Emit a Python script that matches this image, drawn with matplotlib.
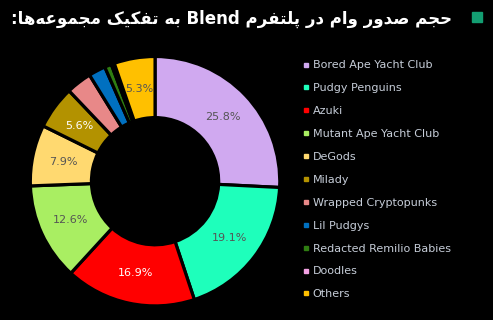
#!/usr/bin/env python3
"""Donut chart: Blend loan volume by NFT collection (Persian title)."""
import matplotlib
matplotlib.use("Agg")
import matplotlib.pyplot as plt
from matplotlib.lines import Line2D

TITLE = "حجم صدور وام در پلتفرم Blend به تفکیک مجموعه\u200cها:"

COLLECTIONS = ["Bored Ape Yacht Club", "Pudgy Penguins", "Azuki",
               "Mutant Ape Yacht Club", "DeGods", "Milady",
               "Wrapped Cryptopunks", "Lil Pudgys", "Redacted Remilio Babies",
               "Doodles", "Others"]
SHARES = [25.8, 19.1, 16.9, 12.6, 7.9, 5.6, 3.3, 2.2, 0.9, 0.4, 5.3]
COLORS = ["#d0a9f0", "#1effbb", "#ff0000", "#a9ee62", "#ffd970", "#b39200",
          "#e88888", "#0070c0", "#2f7d12", "#f3a1e3", "#ffc000"]
LABEL_COLORS = ["#555555", "#555555", "#ffffff", "#555555", "#555555",
                "#ffffff", "#555555", "#555555", "#555555", "#555555", "#555555"]

BG = "#000000"
LEGEND_TEXT = "#c6cdd8"

# matplotlib has no Arabic shaping, so pick presentation forms by hand:
# (isolated, final, initial, medial); right-joining letters have no ini/med.
FORMS = {
    "ا": ("\uFE8D", "\uFE8E", None, None),
    "ب": ("\uFE8F", "\uFE90", "\uFE91", "\uFE92"),
    "ت": ("\uFE95", "\uFE96", "\uFE97", "\uFE98"),
    "ج": ("\uFE9D", "\uFE9E", "\uFE9F", "\uFEA0"),
    "ح": ("\uFEA1", "\uFEA2", "\uFEA3", "\uFEA4"),
    "د": ("\uFEA9", "\uFEAA", None, None),
    "ر": ("\uFEAD", "\uFEAE", None, None),
    "ص": ("\uFEB9", "\uFEBA", "\uFEBB", "\uFEBC"),
    "ع": ("\uFEC9", "\uFECA", "\uFECB", "\uFECC"),
    "ف": ("\uFED1", "\uFED2", "\uFED3", "\uFED4"),
    "ل": ("\uFEDD", "\uFEDE", "\uFEDF", "\uFEE0"),
    "م": ("\uFEE1", "\uFEE2", "\uFEE3", "\uFEE4"),
    "ه": ("\uFEE9", "\uFEEA", "\uFEEB", "\uFEEC"),
    "و": ("\uFEED", "\uFEEE", None, None),
    "پ": ("\uFB56", "\uFB57", "\uFB58", "\uFB59"),
    "ک": ("\uFB8E", "\uFB8F", "\uFB90", "\uFB91"),
    "ی": ("\uFBFC", "\uFBFD", "\uFBFE", "\uFBFF"),
}


def shape_word(word):
    out = []
    for i, ch in enumerate(word):
        if ch not in FORMS:
            if ch != "\u200c":
                out.append(ch)
            continue
        prev = word[i - 1] if i > 0 else None
        nxt = word[i + 1] if i + 1 < len(word) else None
        dual = FORMS[ch][2] is not None
        join_prev = prev in FORMS and FORMS[prev][2] is not None
        join_next = dual and nxt in FORMS
        iso, fin, ini, med = FORMS[ch]
        if join_prev and join_next:
            out.append(med)
        elif join_prev:
            out.append(fin)
        elif join_next:
            out.append(ini)
        else:
            out.append(iso)
    return "".join(out)


def rtl(text):
    words = []
    for w in text.split(" "):
        if any(c in FORMS for c in w):
            words.append(shape_word(w)[::-1])
        else:
            words.append(w)
    return " ".join(words[::-1])


fig = plt.figure(figsize=(4.93, 3.2), dpi=100, facecolor=BG)
ax = fig.add_axes([0.059, 0.04, 0.511, 0.7875])
ax.set_facecolor(BG)

wedges, _, autotexts = ax.pie(
    SHARES, colors=COLORS, startangle=90, counterclock=False,
    autopct=lambda p: f"{p:.1f}%" if p >= 5 else "",
    pctdistance=0.75,
    wedgeprops=dict(width=0.49, edgecolor=BG, linewidth=2.3),
    textprops=dict(fontsize=8))
for t, c in zip(autotexts, LABEL_COLORS):
    t.set_color(c)
ax.set_xlim(-1.01, 1.01)
ax.set_ylim(-1.01, 1.01)
ax.set_aspect("equal")

handles = [Line2D([], [], marker="s", linestyle="", markersize=3.5,
                  markerfacecolor=c, markeredgecolor=c) for c in COLORS]
leg = fig.legend(handles, COLLECTIONS, loc="upper left",
                 bbox_to_anchor=(0.606, 0.825), frameon=False,
                 fontsize=8, labelspacing=1.16, handlelength=0.5,
                 handletextpad=0.35, borderaxespad=0)
for t in leg.get_texts():
    t.set_color(LEGEND_TEXT)

fig.text(0.917, 1 - 19 / 320, rtl(TITLE), ha="right", va="center",
         color="white", fontsize=12, fontweight="bold")
fig.patches.append(plt.Rectangle((472 / 493, 1 - 22 / 320), 10 / 493, 10 / 320,
                                 transform=fig.transFigure, color="#139e72"))

fig.savefig("out.png", dpi=100, facecolor=BG)
